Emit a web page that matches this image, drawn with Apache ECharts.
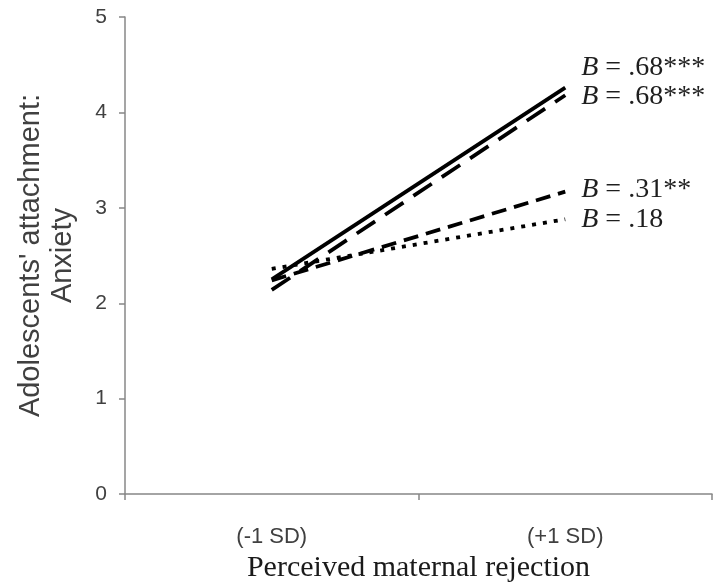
<!DOCTYPE html>
<html>
<head>
<meta charset="utf-8">
<script src="https://cdn.jsdelivr.net/npm/echarts@6/dist/echarts.min.js"></script>
<style>
html,body{margin:0;padding:0;background:#fff;}
#chart{width:715px;height:588px;}
</style>
</head>
<body>
<div id="chart"></div>
<script>
const categories = ['(-1 SD)', '(+1 SD)'];
const solidValues = [2.25, 4.26];
const longDashValues = [2.14, 4.18];
const dashValues = [2.24, 3.17];
const dotValues = [2.36, 2.88];
const slopeLabels = ['.68***', '.68***', '.31**', '.18'];
const yTicks = [0, 1, 2, 3, 4, 5];

const chart = echarts.init(document.getElementById('chart'), null, {renderer: 'canvas'});

function makeSeries(name, data, lineType, labelText, offsetY, z) {
  return {
    name: name,
    type: 'line',
    data: data,
    symbol: 'none',
    z: z,
    silent: true,
    lineStyle: { color: '#000', width: 3.8, type: lineType, cap: 'butt' },
    endLabel: {
      show: true,
      distance: 16,
      offset: [0, offsetY],
      formatter: function () { return '{i|B} = ' + labelText; },
      fontFamily: 'Liberation Serif',
      fontSize: 28,
      color: '#1e1e1e',
      rich: {
        i: { fontFamily: 'Liberation Serif', fontSize: 28, fontStyle: 'italic', color: '#1e1e1e' }
      }
    }
  };
}

const option = {
  backgroundColor: '#ffffff',
  animation: false,
  grid: { left: 125, right: 3, top: 17, bottom: 92, containLabel: false },
  xAxis: {
    type: 'category',
    data: categories,
    boundaryGap: true,
    name: 'Perceived maternal rejection',
    nameLocation: 'middle',
    nameGap: 55,
    nameTextStyle: { fontFamily: 'Liberation Serif', fontSize: 30, color: '#1a1a1a' },
    axisLine: { show: true, lineStyle: { color: '#878787', width: 1.5 } },
    axisTick: { show: true, length: 6, lineStyle: { color: '#878787', width: 1.5 } },
    axisLabel: { margin: 32, fontFamily: 'Liberation Sans', fontSize: 22, color: '#404040' },
    splitLine: { show: false }
  },
  yAxis: {
    type: 'value',
    min: yTicks[0],
    max: yTicks[yTicks.length - 1],
    interval: 1,
    name: "Adolescents' attachment:\nAnxiety",
    nameLocation: 'middle',
    nameRotate: 90,
    nameGap: 46,
    nameTextStyle: { fontFamily: 'Liberation Sans', fontSize: 29, color: '#404040', lineHeight: 32 },
    axisLine: { show: true, lineStyle: { color: '#878787', width: 1.5 } },
    axisTick: { show: true, length: 6, lineStyle: { color: '#878787', width: 1.5 } },
    axisLabel: { margin: 18, fontFamily: 'Liberation Sans', fontSize: 21, color: '#404040' },
    splitLine: { show: false }
  },
  series: [
    makeSeries('longdash', longDashValues, [22, 12], slopeLabels[1], 1, 2),
    makeSeries('solid', solidValues, 'solid', slopeLabels[0], -20, 3),
    makeSeries('dash', dashValues, [15, 8], slopeLabels[2], -2, 2),
    makeSeries('dot', dotValues, [4, 7], slopeLabels[3], 0, 2)
  ]
};
chart.setOption(option);
</script>
</body>
</html>
